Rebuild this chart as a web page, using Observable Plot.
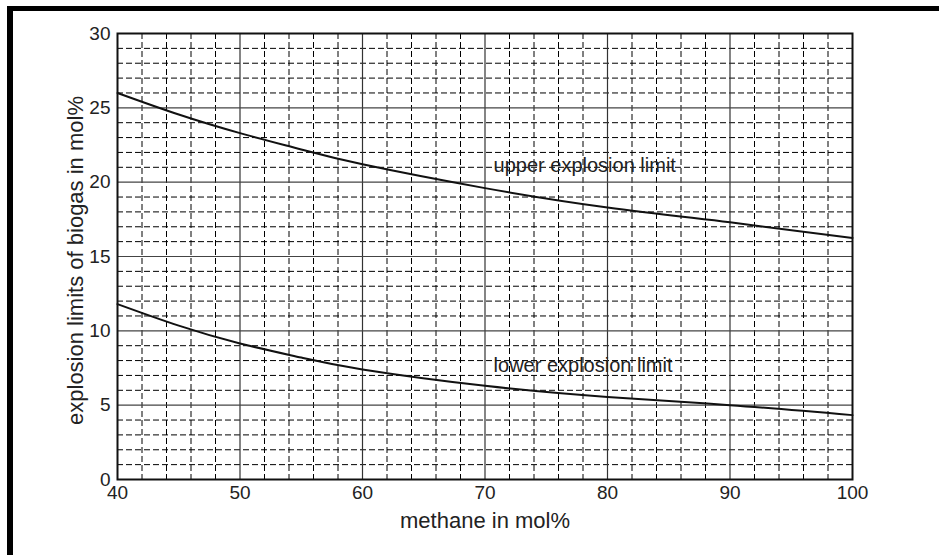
<!DOCTYPE html>
<html><head><meta charset="utf-8">
<script src="https://cdn.jsdelivr.net/npm/d3@7"></script>
<script src="https://cdn.jsdelivr.net/npm/@observablehq/plot@0.6"></script>
<style>
html,body{margin:0;padding:0;background:#fff;}
#wrap{position:relative;width:939px;height:555px;overflow:hidden;}
#frame{position:absolute;left:7px;top:6px;width:960px;height:600px;border-top:5px solid #000;border-left:6px solid #000;box-sizing:border-box;}
#chart{position:absolute;left:0;top:0;}
</style></head><body>
<div id="wrap"><div id="chart"></div><div id="frame"></div></div>
<script>
// methane content of biogas (mol%)
const methane = [40, 45, 50, 55, 60, 70, 80, 90, 100];
// upper explosion limit of biogas (mol%)
const upperLimit = [26.0, 24.55, 23.3, 22.2, 21.2, 19.6, 18.3, 17.3, 16.25];
// lower explosion limit of biogas (mol%)
const lowerLimit = [11.8, 10.35, 9.15, 8.2, 7.4, 6.3, 5.55, 5.0, 4.33];
const xTicks = [40, 50, 60, 70, 80, 90, 100];
const yTicks = [0, 5, 10, 15, 20, 25, 30];
const xMajorGrid = [50, 60, 70, 80, 90];
const yMajorGrid = [5, 10, 15, 20, 25];
const xMinorGrid = [42,44,46,48,52,54,56,58,62,64,66,68,72,74,76,78,82,84,86,88,92,94,96,98];
const yMinorGrid = [1,2,3,4,6,7,8,9,11,12,13,14,16,17,18,19,21,22,23,24,26,27,28,29];
const xLabel = "methane in mol%";
const yLabel = "explosion limits of biogas in mol%";
const upperName = "upper explosion limit";
const lowerName = "lower explosion limit";

const upperData = methane.map((m, i) => ({m, v: upperLimit[i]}));
const lowerData = methane.map((m, i) => ({m, v: lowerLimit[i]}));

const font = "'Liberation Sans', Arial, Helvetica, sans-serif";
const txt = "#222";

const chart = Plot.plot({
  width: 939,
  height: 555,
  marginLeft: 117,
  marginRight: 87,
  marginTop: 33,
  marginBottom: 76,
  style: {fontFamily: font, fontSize: "19px", color: txt, background: "transparent"},
  x: {domain: [40, 100]},
  y: {domain: [0, 30]},
  marks: [
    Plot.ruleX(xMinorGrid, {stroke: "#000", strokeWidth: 1, strokeDasharray: "6,3"}),
    Plot.ruleY(yMinorGrid, {stroke: "#000", strokeWidth: 1, strokeDasharray: "6,3"}),
    Plot.ruleX(xMajorGrid, {stroke: "#333", strokeWidth: 1.2}),
    Plot.ruleY(yMajorGrid, {stroke: "#444", strokeWidth: 1.2}),
    Plot.frame({stroke: "#111", strokeWidth: 2}),
    Plot.line(upperData, {x: "m", y: "v", curve: "natural", stroke: "#111", strokeWidth: 2}),
    Plot.line(lowerData, {x: "m", y: "v", curve: "natural", stroke: "#111", strokeWidth: 2}),
    Plot.text([upperName], {x: 70.7, y: 21.1, text: d => d, textAnchor: "start", lineAnchor: "middle", fontSize: 20, fill: txt}),
    Plot.text([lowerName], {x: 70.7, y: 7.67, text: d => d, textAnchor: "start", lineAnchor: "middle", fontSize: 20, fill: txt}),
    Plot.axisX({ticks: xTicks, tickSize: 0, tickPadding: 6, label: null, fontSize: 19, fill: txt}),
    Plot.axisY({ticks: yTicks, tickSize: 0, tickPadding: 7, label: null, fontSize: 19, fill: txt}),
    Plot.text([xLabel], {frameAnchor: "bottom", text: d => d, dy: 41, textAnchor: "middle", lineAnchor: "middle", fontSize: 22, fill: txt}),
    Plot.text([yLabel], {frameAnchor: "left", text: d => d, dx: -42, dy: 4, rotate: -90, textAnchor: "middle", lineAnchor: "middle", fontSize: 22, fill: txt})
  ]
});
document.getElementById("chart").appendChild(chart);
</script>
</body></html>
